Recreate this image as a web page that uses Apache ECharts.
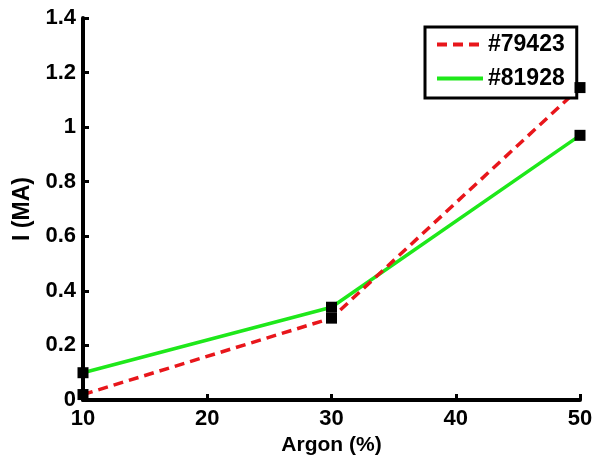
<!DOCTYPE html>
<html><head><meta charset="utf-8">
<script src="https://cdn.jsdelivr.net/npm/echarts@6/dist/echarts.min.js"></script>
<style>html,body{margin:0;padding:0;background:#fff}#c{width:597px;height:461px}</style>
</head><body><div id="c"></div>
<script>
const argon = [10, 30, 50];
const s79423 = [0.02, 0.30, 1.145];
const s81928 = [0.10, 0.34, 0.97];
const xTicks = [10, 20, 30, 40, 50];
const yTicks = [0, 0.2, 0.4, 0.6, 0.8, 1, 1.2, 1.4];

const font = 'Liberation Sans, Arial, sans-serif';
const chart = echarts.init(document.getElementById('c'));
const pairs = a => argon.map((x, i) => [x, a[i]]);
chart.setOption({
  animation: false,
  grid: {left: 83, right: 17, top: 18, bottom: 61},
  legend: {
    left: 425, top: 27, orient: 'vertical', itemWidth: 46, itemHeight: 14, itemGap: 11,
    padding: [6, 12, 8, 10], borderColor: '#000', borderWidth: 3, backgroundColor: '#fff',
    itemStyle: {opacity: 0},
    lineStyle: {width: 4},
    textStyle: {fontFamily: font, fontWeight: 'bold', fontSize: 23, color: '#000'},
    data: ['#79423', '#81928']
  },
  xAxis: {
    type: 'value', min: 10, max: 50, interval: 10,
    name: 'Argon (%)', nameLocation: 'middle', nameGap: 28,
    nameTextStyle: {fontFamily: font, fontWeight: 'bold', fontSize: 21, color: '#000'},
    axisLine: {lineStyle: {color: '#000', width: 4}},
    axisTick: {inside: true, length: 6, lineStyle: {color: '#000', width: 3}},
    axisLabel: {fontFamily: font, fontWeight: 'bold', fontSize: 22, color: '#000', margin: 8,
      formatter: v => xTicks.includes(v) ? String(v) : ''},
    splitLine: {show: false}
  },
  yAxis: {
    type: 'value', min: 0, max: 1.4, interval: 0.2,
    name: 'I (MA)', nameLocation: 'middle', nameGap: 44,
    nameTextStyle: {fontFamily: font, fontWeight: 'bold', fontSize: 23, color: '#000'},
    axisLine: {lineStyle: {color: '#000', width: 4}},
    axisTick: {inside: true, length: 6, lineStyle: {color: '#000', width: 3}},
    axisLabel: {fontFamily: font, fontWeight: 'bold', fontSize: 22, color: '#000', margin: 7,
      formatter: v => { const t = yTicks.find(k => Math.abs(k - v) < 1e-9); return t === undefined ? '' : String(t); }},
    splitLine: {show: false}
  },
  series: [
    {name: '#79423', type: 'line', data: pairs(s79423), symbol: 'none',
      lineStyle: {color: '#e8161b', width: 3.5, type: [10, 6]}, itemStyle: {color: '#e8161b'}, z: 3},
    {name: '#81928', type: 'line', data: pairs(s81928), symbol: 'none',
      lineStyle: {color: '#1ee81a', width: 3.5, type: 'solid'}, itemStyle: {color: '#1ee81a'}, z: 2},
    {name: 'm1', type: 'scatter', data: pairs(s79423), symbol: 'rect', symbolSize: 11,
      itemStyle: {color: '#000', opacity: 1}, z: 4},
    {name: 'm2', type: 'scatter', data: pairs(s81928), symbol: 'rect', symbolSize: 11,
      itemStyle: {color: '#000', opacity: 1}, z: 4}
  ]
});
</script></body></html>
